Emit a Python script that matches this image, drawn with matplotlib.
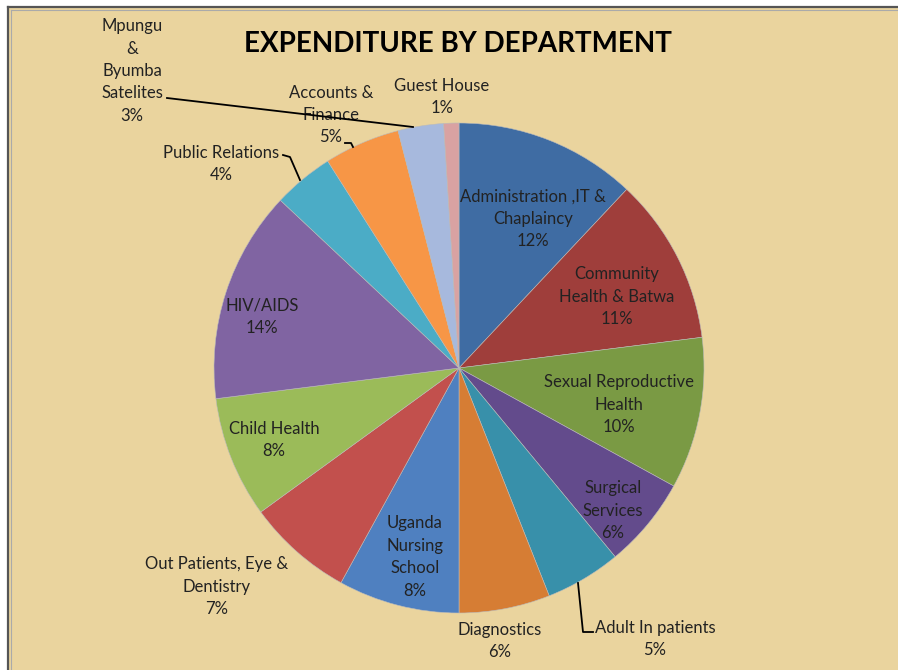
import matplotlib
matplotlib.use("Agg")
import matplotlib.pyplot as plt
from matplotlib.patches import Rectangle

# data (percent of total expenditure)
departments = ["Administration ,IT &\nChaplaincy", "Community\nHealth & Batwa",
               "Sexual Reproductive\nHealth", "Surgical\nServices", "Adult In patients",
               "Diagnostics", "Uganda\nNursing\nSchool", "Out Patients, Eye &\nDentistry",
               "Child Health", "HIV/AIDS", "Public Relations", "Accounts &\nFinance",
               "Mpungu\n&\nByumba\nSatelites", "Guest House"]
shares = [12, 11, 10, 6, 5, 6, 8, 7, 8, 14, 4, 5, 3, 1]

colors = ["#3F6CA3", "#9F3E3B", "#7A9A44", "#634B8C", "#3890AA", "#D67D34",
          "#4F80C0", "#C2504D", "#9BBB59", "#8064A2", "#4BACC6", "#F79646",
          "#A7B9DD", "#D9A2A2"]

# label centres in pixel coords (from top-left), style only
label_xy = [(533, 219), (617, 297), (619, 405), (613, 511), (655, 639),
            (500, 641), (415, 557), (217, 587), (274, 440), (262, 317),
            (221, 164), (331, 115), (132, 71), (442, 97)]

W, H = 898, 670
fig = plt.figure(figsize=(W / 100, H / 100), dpi=100)
fig.patch.set_facecolor("white")
fig.patch.set_edgecolor("none")
ax = fig.add_axes([0, 0, 1, 1])

ax.pie(shares, colors=colors, startangle=90, counterclock=False,
       center=(459, H - 368), radius=245,
       wedgeprops=dict(linewidth=0.4, edgecolor="#bbbbbb"))
ax.set_xlim(0, W)
ax.set_ylim(0, H)
ax.set_aspect("auto")
ax.axis("off")

# parchment-ish background with frame on left/top
ax.add_patch(Rectangle((8, -20), W + 20, H + 13, facecolor="#EAD49E",
                       edgecolor="none", zorder=-2))
ax.plot([8, 8], [0, H - 7], color="#555555", lw=1.6, zorder=-1)
ax.plot([8, W + 10], [H - 7, H - 7], color="#555555", lw=1.6, zorder=-1)
ax.plot([11, 11], [0, H - 10], color="#AAAAAA", lw=0.8, zorder=-1)
ax.plot([11, W + 10], [H - 10, H - 10], color="#AAAAAA", lw=0.8, zorder=-1)

font = ["Lato", "DejaVu Sans"]
for name, val, (lx, ly) in zip(departments, shares, label_xy):
    ax.text(lx, H - ly, f"{name}\n{val}%", ha="center", va="center",
            fontsize=12, family=font, color="#222222", linespacing=1.5, zorder=5)

# leader lines
leaders = [
    ([167, 413], [98, 127]),
    ([345, 351, 353], [143, 143, 147]),
    ([283, 290, 300], [155, 157, 180]),
    ([578, 583, 593], [583, 632, 632]),
]
for xs, ys in leaders:
    ax.plot(xs, [H - y for y in ys], color="black", lw=1.3, zorder=6)

ax.text(458, H - 44, "EXPENDITURE BY DEPARTMENT", ha="center", va="center",
        fontsize=20, fontweight="bold", family=font, color="black", zorder=5)

fig.savefig("out.png", dpi=100, facecolor="white")
